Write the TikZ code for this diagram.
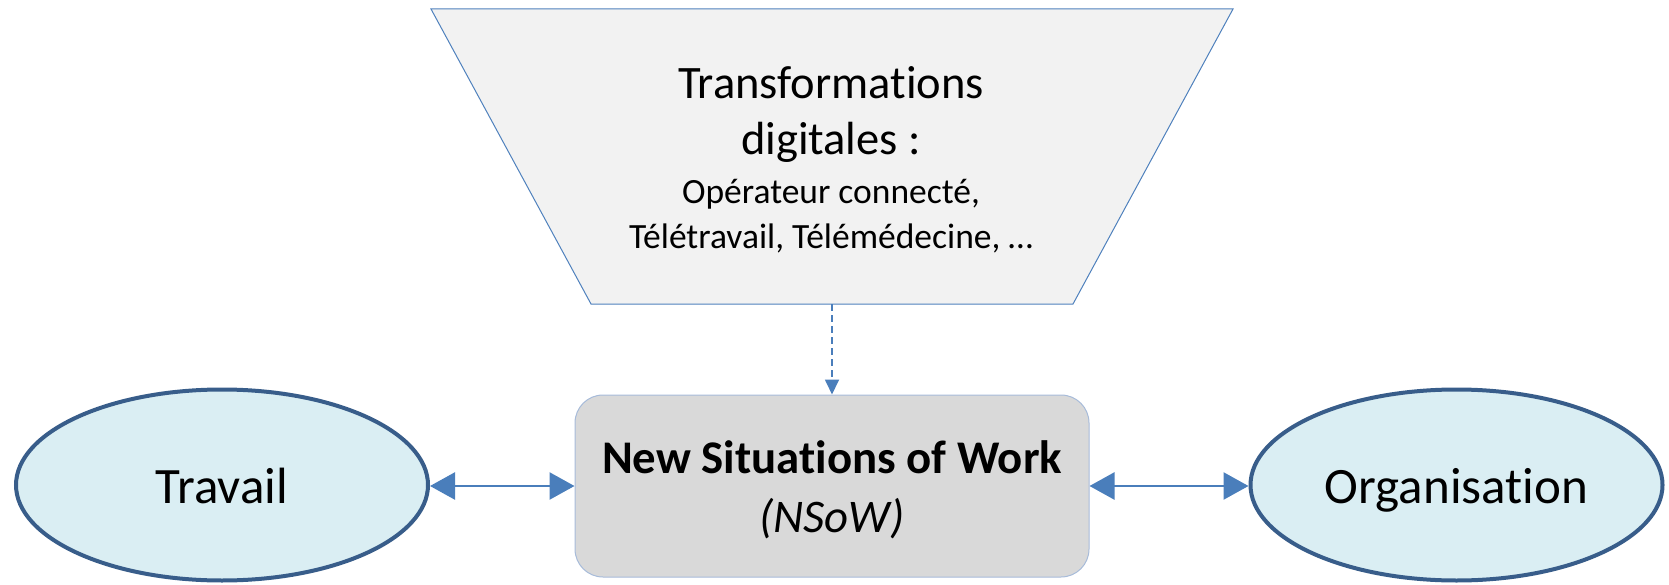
\documentclass[tikz,border=0pt]{standalone}
\usepackage{fontspec}
\setmainfont{Carlito}[Ligatures={NoCommon}]
\usetikzlibrary{shapes.geometric,arrows.meta}
\definecolor{trapfill}{HTML}{F2F2F2}
\definecolor{trapline}{HTML}{4F81BD}
\definecolor{boxfill}{HTML}{D9D9D9}
\definecolor{boxline}{HTML}{A7BBD9}
\definecolor{ellfill}{HTML}{DAEEF3}
\definecolor{ellline}{HTML}{385D8A}
\definecolor{arrcol}{HTML}{4A7EBB}
\tikzset{
  ellnode/.style={ellipse, draw=ellline, fill=ellfill, line width=4pt, minimum width=412pt, minimum height=191pt, inner sep=0pt},
  boxnode/.style={draw=boxline, fill=boxfill, line width=1pt, rounded corners=28pt, minimum width=514pt, minimum height=182pt, inner sep=0pt},
  txt/.style={anchor=base, inner sep=0pt},
  dblarrow/.style={arrcol, line width=2.5pt, {Triangle[length=25pt,width=27pt]}-{Triangle[length=25pt,width=27pt]}},
  dasharrow/.style={arrcol, line width=1.8pt, dash pattern=on 7pt off 4pt, -{Triangle[length=15pt,width=14pt]}}
}
\begin{document}
\begin{tikzpicture}[x=1pt,y=-1pt]
\useasboundingbox (0,0) rectangle (1669,585);
% trapezoid
\coordinate (tl) at (431,9);
\coordinate (tr) at (1233,9);
\coordinate (br) at (1073,304);
\coordinate (bl) at (591,304);
\coordinate (tb) at (832,304);
\draw[trapline, fill=trapfill, line width=1pt] (tl) -- (tr) -- (br) -- (bl) -- cycle;
\node[txt] (t1) at (831,99) {\fontsize{46.5}{56}\selectfont Transformations};
\node[txt] (t2) at (831,155) {\fontsize{46.5}{56}\selectfont digitales :};
\node[txt] (t3) at (831,204) {\fontsize{35.5}{44}\selectfont Opérateur connecté,};
\node[txt] (t4) at (831,248) {\fontsize{35.5}{44}\selectfont Télétravail, Télémédecine, …};
% central box
\node[boxnode] (nsow) at (832,486) {};
\node[txt] (n1) at (832,473) {\fontsize{46.8}{56}\selectfont\bfseries New Situations of Work};
\node[txt] (n2) at (832,532) {\fontsize{46.8}{56}\selectfont\itshape (NSoW)};
% ellipses
\node[ellnode] (trav) at (222,485) {};
\node[txt] (trt) at (222,503) {\fontsize{51}{60}\selectfont Travail};
\node[ellnode] (org) at (1456.5,485) {};
\node[txt] (ort) at (1456.5,503) {\fontsize{51}{60}\selectfont Organisation};
% connectors
\draw[dasharrow] (tb) -- (tb |- nsow.north);
\draw[dblarrow] (trav.east |- nsow.west) -- (nsow.west);
\draw[dblarrow] (nsow.east) -- (org.west |- nsow.east);
\end{tikzpicture}
\end{document}
